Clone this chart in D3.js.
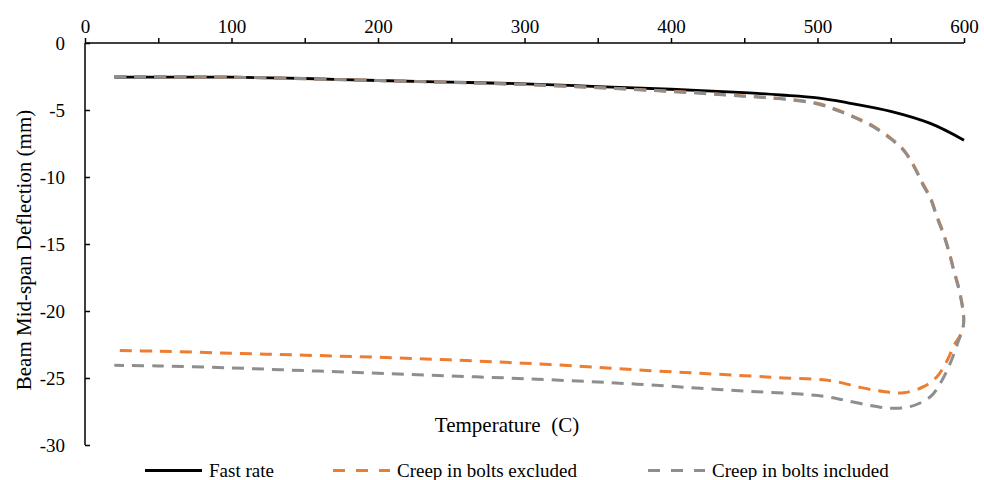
<!DOCTYPE html>
<html><head><meta charset="utf-8">
<script src="https://cdn.jsdelivr.net/npm/d3@7/dist/d3.min.js"></script>
<style>body{margin:0;background:#fff}svg{display:block}</style>
</head><body>
<svg id="c" width="984" height="480" font-family="'Liberation Serif', 'Times New Roman', 'DejaVu Serif', serif"></svg>
<script>
// Data (Temperature in C, deflection in mm)
const fastTemp = [20,50,100,150,200,250,300,350,400,450,475,500,520,550,577,600];
const fastDefl = [-2.55,-2.55,-2.55,-2.65,-2.8,-2.92,-3.05,-3.25,-3.45,-3.7,-3.88,-4.1,-4.45,-5.1,-6.0,-7.25];

const exclTemp = [20,100,200,300,400,450,475,500,515,527,538,550,559,566,572,577,581.5,586,589.5,593,596.3,598.6,599.8,
                  599.3,596.5,594,588,581.5,572.4,558.8,545,529,513,500,477,454,420,386,350,300,250,200,150,100,50,20];
const exclDefl = [-2.5,-2.55,-2.8,-3.1,-3.6,-3.95,-4.15,-4.5,-5.05,-5.6,-6.2,-7.1,-8.0,-9.2,-10.5,-11.5,-12.9,-14.2,-15.45,-16.9,-18.2,-19.4,-20.4,
                  -21.3,-22.0,-22.4,-23.8,-24.9,-25.65,-26.1,-26.0,-25.7,-25.27,-25.1,-25.0,-24.85,-24.65,-24.45,-24.2,-23.9,-23.65,-23.45,-23.3,-23.15,-23.0,-22.95];

const inclTemp = [20,100,200,300,400,450,475,500,515,527,538,550,559,566,572,577,581.5,586,589.5,593,596.3,598.6,599.8,
                  599.2,596,590.6,583.8,577,563.3,549.7,533.7,517.8,506.4,488.2,454,420,386,350,300,250,200,150,100,50,20];
const inclDefl = [-2.5,-2.55,-2.8,-3.1,-3.62,-3.97,-4.17,-4.55,-5.1,-5.65,-6.25,-7.15,-8.05,-9.25,-10.6,-11.6,-13.0,-14.3,-15.5,-17.0,-18.3,-19.5,-20.5,
                  -21.3,-22.3,-23.9,-25.4,-26.4,-27.14,-27.26,-27.0,-26.64,-26.4,-26.2,-26.0,-25.77,-25.52,-25.3,-25.05,-24.85,-24.65,-24.45,-24.25,-24.1,-24.05];

const xTicks = [0,100,200,300,400,500,600];
const xMinorTicks = [0,50,100,150,200,250,300,350,400,450,500,550,600];
const yTicks = [0,-5,-10,-15,-20,-25,-30];
const seriesNames = ["Fast rate","Creep in bolts excluded","Creep in bolts included"];

const FONT = "'Liberation Serif', 'Times New Roman', 'DejaVu Serif', serif";
const svg = d3.select("#c");
const x = d3.scaleLinear().domain([0,600]).range([85,964]);
const y = d3.scaleLinear().domain([0,-30]).range([43,445]);

const line = d3.line().x(d=>x(d[0])).y(d=>y(d[1])).curve(d3.curveCatmullRom.alpha(0.5));
const zip = (a,b)=>a.map((v,i)=>[v,b[i]]);

const series = [
  {name:seriesNames[0], data:zip(fastTemp,fastDefl), color:"#000", w:2.8, dash:null},
  {name:seriesNames[1], data:zip(exclTemp,exclDefl), color:"#ED7D31", w:3, dash:"12,8"},
  {name:seriesNames[2], data:zip(inclTemp,inclDefl), color:"#8E8E8E", w:3, dash:"12,8"}
];

// Axes
const xAxis = d3.axisTop(x).tickValues(xMinorTicks).tickSize(5).tickFormat(d=>xTicks.includes(d)?String(d):"");
const gx = svg.append("g").attr("transform","translate(0,43)").call(xAxis);
gx.attr("font-family",FONT);
gx.select(".domain").attr("d",`M${x(0)},0H${x(600)}`).attr("stroke","#000").attr("stroke-width",1.5);
gx.selectAll(".tick line").attr("stroke","#000").attr("stroke-width",1.5);
gx.selectAll(".tick text").attr("font-family",FONT).attr("font-size",19).attr("fill","#000").attr("dy","-2");

const yAxis = d3.axisLeft(y).tickValues(yTicks).tickSize(-5).tickPadding(20).tickFormat(d=>String(d));
const gy = svg.append("g").attr("transform","translate(85,0)").call(yAxis);
gy.attr("font-family",FONT);
gy.select(".domain").attr("d",`M0,${y(0)}V${y(-30)}`).attr("stroke","#000").attr("stroke-width",1.5);
gy.selectAll(".tick line").attr("stroke","#000").attr("stroke-width",1.5);
gy.selectAll(".tick text").attr("font-family",FONT).attr("font-size",19).attr("fill","#000");

// Series
series.forEach(s=>{
  svg.append("path").datum(s.data).attr("d",line).attr("fill","none")
    .attr("stroke",s.color).attr("stroke-width",s.w)
    .attr("stroke-dasharray",s.dash).attr("stroke-linejoin","round");
});

// Titles
svg.append("text").attr("x",507).attr("y",432).attr("text-anchor","middle").attr("font-size",21)
  .attr("font-family",FONT).attr("xml:space","preserve").style("white-space","pre").text("Temperature  (C)");
svg.append("text").attr("transform","translate(31,250) rotate(-90)").attr("text-anchor","middle").attr("font-size",21)
  .attr("font-family",FONT).text("Beam Mid-span Deflection (mm)");

// Legend
const legX = [145,333,648];
series.forEach((s,i)=>{
  const g = svg.append("g").attr("transform",`translate(${legX[i]},470.5)`);
  g.append("line").attr("x1",0).attr("x2",57).attr("y1",0).attr("y2",0)
    .attr("stroke",s.color).attr("stroke-width",s.w).attr("stroke-dasharray",s.dash?"12,11":null);
  g.append("text").attr("x",64).attr("y",6).attr("font-size",19).attr("font-family",FONT).text(s.name);
});
</script>
</body></html>
